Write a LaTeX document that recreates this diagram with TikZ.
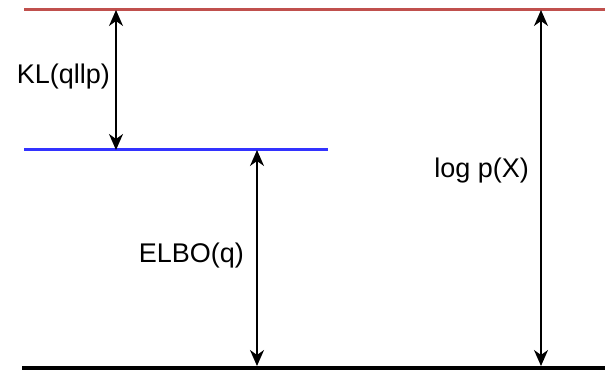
\documentclass[tikz,border=0pt]{standalone}
\usepackage{xcolor}
\usepackage{fontspec}
\setmainfont{Liberation Sans}
\usetikzlibrary{arrows.meta}
\definecolor{logred}{HTML}{C0504D}
\definecolor{elboblue}{HTML}{3333FF}

\begin{document}
\begin{tikzpicture}[x=1pt, y=-1pt,
    level/.style={line width=3pt},
    gap/.style={line width=1.6pt,
      {Stealth[length=16pt,width=14pt,inset=5pt]}-{Stealth[length=16pt,width=14pt,inset=5pt]}},
    lbl/.style={anchor=east, font=\fontsize{27}{29}\selectfont, inner sep=0pt}]
  \useasboundingbox (0,0) rectangle (605,371);

  % the three levels
  \coordinate (top-l) at (24,10);   \coordinate (top-r) at (605,10);
  \coordinate (mid-l) at (24,150);  \coordinate (mid-r) at (328,150);
  \coordinate (bot-l) at (22,368);  \coordinate (bot-r) at (605,368);
  \draw[level, logred] (top-l) -- (top-r);
  \draw[level, elboblue] (mid-l) -- (mid-r);
  \draw[level, line width=4pt, black] (bot-l) -- (bot-r);

  % arrow ends
  \coordinate (kl-a) at (116,10);   \coordinate (kl-b) at (116,150);
  \coordinate (elbo-a) at (257,150); \coordinate (elbo-b) at (257,366);
  \coordinate (lp-a) at (541,10);   \coordinate (lp-b) at (541,366);
  \draw[gap] (kl-a) -- (kl-b);
  \draw[gap] (elbo-a) -- (elbo-b);
  \draw[gap] (lp-a) -- (lp-b);

  \node[lbl] (kl) at (110,77) {KL(qllp)};
  \node[lbl] (elbo) at (244,256) {ELBO(q)};
  \node[lbl] (logp) at (529,171) {log p(X)};
\end{tikzpicture}
\end{document}
